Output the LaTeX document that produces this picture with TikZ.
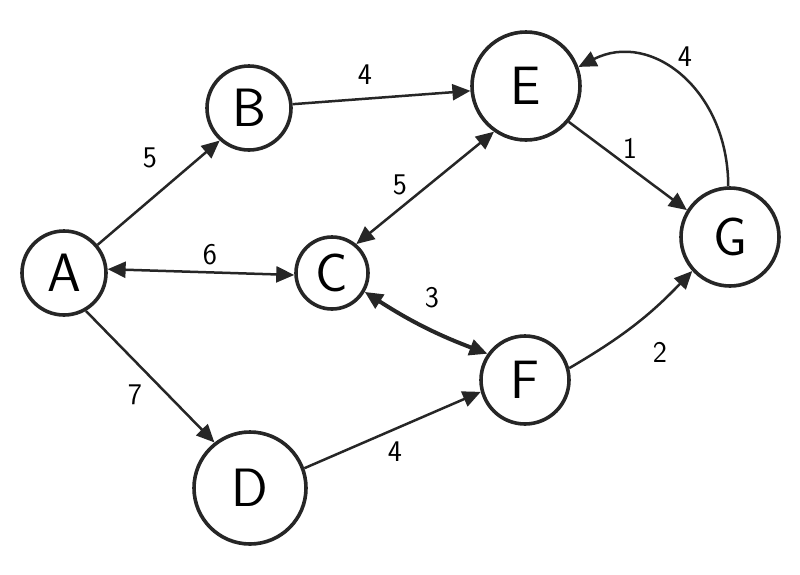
\documentclass[tikz,border=0pt]{standalone}
\usetikzlibrary{arrows.meta}
\begin{document}
\begin{tikzpicture}[x=1pt,y=-1pt,
  vert/.style={draw=black!85, line width=3.6pt, circle, inner sep=0pt, font=\fontsize{54}{54}\selectfont\sffamily},
  edge/.style={draw=black!85, line width=2.5pt},
  tip/.style={-{Triangle[length=18pt,width=16pt]}},
  tips/.style={{Triangle[length=18pt,width=16pt]}-{Triangle[length=18pt,width=16pt]}},
  lab/.style={font=\fontsize{30}{30}\selectfont\sffamily}]
\useasboundingbox (0,0) rectangle (800,574);
\node[vert, minimum size=84pt] (A) at (64,273) {A};
\node[vert, minimum size=84pt] (B) at (249,108) {B};
\node[vert, minimum size=108pt] (E) at (526,86) {E};
\node[vert, minimum size=72pt] (C) at (332,273) {C};
\node[vert, minimum size=98pt] (G) at (730,237) {G};
\node[vert, minimum size=88pt] (F) at (525,380) {F};
\node[vert, minimum size=112pt] (D) at (250,488) {D};
\draw[edge, tip] (A.40) -- (B.228);
\draw[edge, tip] (B.5) -- (E.185);
\draw[edge, tips] (C.50) -- (E.235);
\draw[edge, tips] (A.5) -- (C.183);
\draw[edge, tips, line width=4pt] (C.330) to[bend right=6] (F.145);
\draw[edge, tip] (E.320) -- (G.148);
\draw[edge, tip] (G.92) .. controls +(0,-96) and +(73,-37) .. (E.20);
\draw[edge, tip] (F.15) to[bend right=8] (G.222);
\draw[edge, tip] (A.300) -- (D.128);
\draw[edge, tip] (D.20) -- (F.195);
\node[lab] (l1) at (150,158) {5};
\node[lab] (l2) at (365,75) {4};
\node[lab] (l3) at (400,185) {5};
\node[lab] (l4) at (210,255) {6};
\node[lab] (l5) at (432,298) {3};
\node[lab] (l6) at (630,148) {1};
\node[lab] (l7) at (685,57) {4};
\node[lab] (l8) at (660,352) {2};
\node[lab] (l9) at (135,395) {7};
\node[lab] (l10) at (395,452) {4};
\end{tikzpicture}
\end{document}
